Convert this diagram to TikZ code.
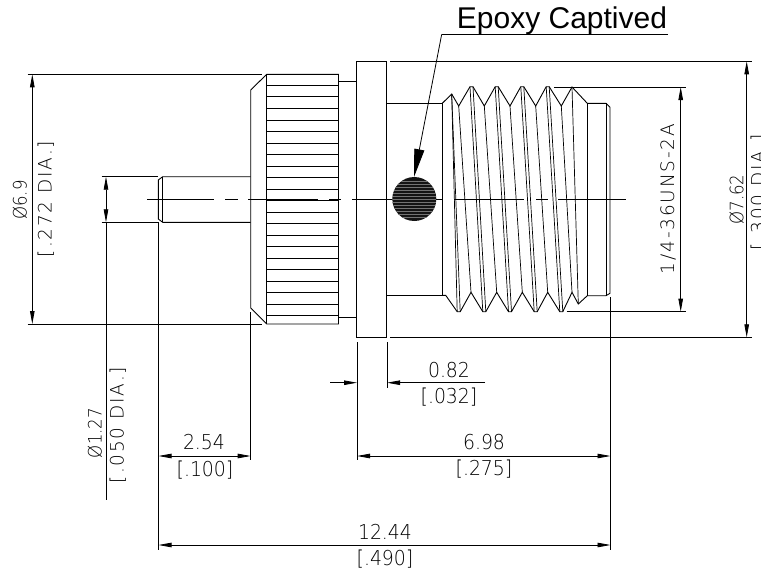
\documentclass[tikz,border=0pt]{standalone}
\usepackage{fontspec}
\usetikzlibrary{arrows.meta}
\newfontfamily\dimfont[FakeStretch=0.92]{DejaVu Sans ExtraLight}
\newfontfamily\upfont[LetterSpace=10]{DejaVu Sans ExtraLight}
\newfontfamily\diafont[FakeStretch=0.9]{DejaVu Sans ExtraLight}
\newfontfamily\notefont{Liberation Sans}
\tikzset{
	line/.style={black,line width=0.9pt},
	thin line/.style={black,line width=0.7pt},
	dim/.style={black,line width=0.8pt,{Triangle[length=13pt,width=4.5pt]}-{Triangle[length=13pt,width=4.5pt]}},
	dim end/.style={black,line width=0.8pt,-{Triangle[length=13pt,width=4.5pt]}},
	dim text/.style={inner sep=0pt,font=\dimfont\fontsize{20.5}{20.5}\selectfont},
	up text/.style={inner sep=0pt,rotate=90,font=\upfont\fontsize{18.5}{18.5}\selectfont},
	dia text/.style={inner sep=0pt,rotate=90,font=\diafont\fontsize{18.5}{18.5}\selectfont}
}
\begin{document}
\begin{tikzpicture}[x=1pt,y=-1pt]
	\useasboundingbox (0,0) rectangle (761,568);
	% knurled nut
	\draw [line] (250.7,90) -- (266.7,74.3) -- (338.5,74.3) -- (338.5,324) -- (266.7,324) -- (250.7,308) -- cycle;
	\draw [line] (266.7,74.3) -- (266.7,324);
	\foreach \row in {0,...,20}
		\draw [thin line] (266.7,85.3+11.52*\row) -- (338.5,85.3+11.52*\row);
	\draw [line] (338.5,81.7) -- (356.3,81.7);
	\draw [line] (338.5,317) -- (356.3,317);
	% flange
	\draw [line] (356.3,61) rectangle (386,337);
	\draw [line] (386,103.3) -- (442.3,103.3) -- (442.3,295.3) -- (386,295.3);
	% pin
	\draw [line] (250.7,176.7) -- (162.7,176.7) -- (158.3,180) -- (158.3,219) -- (162.7,222.3) -- (250.7,222.3);
	\draw [line] (162.7,176.7) -- (162.7,222.3);
	% thread outline
	\draw [line] (442.3,103.3) -- (451.7,94) -- (458.7,106) -- (470,86.7) -- (473,86.7) -- (484.3,106) -- (495.2,86.7) -- (498.2,86.7) -- (510,106) -- (520.8,86.7) -- (523.8,86.7) -- (535.7,106) -- (546.2,86.7) -- (549.2,86.7) -- (561.3,106) -- (572,87) -- (587.3,103.3) -- (606,103.3) -- (610,107.3) -- (610,293.3) -- (606,295.7) -- (587.3,295.7) -- (578.3,304) -- (572,292.3) -- (562.8,311.7) -- (559.8,311.7) -- (547.7,292.3) -- (537.2,311.7) -- (534.2,311.7) -- (522.3,292.3) -- (511.5,311.7) -- (508.5,311.7) -- (496.7,292.3) -- (485.8,311.7) -- (482.8,311.7) -- (471,292.3) -- (460.2,311.7) -- (457.2,311.7) -- (445.7,295.3) -- (442.3,295.3);
	\draw [line] (587.3,103.3) -- (587.3,295.7);
	\draw [line] (606,103.3) -- (606,295.7);
	\foreach \xa/\ya/\xb/\yb in {451.7/94/457.2/311.7,451.7/94/460.2/311.7,458.7/106/471/292.3,470/86.7/482.8/311.7,473/86.7/485.8/311.7,484.3/106/496.7/292.3,495.2/86.7/508.5/311.7,498.2/86.7/511.5/311.7,510/106/522.3/292.3,520.8/86.7/534.2/311.7,523.8/86.7/537.2/311.7,535.7/106/547.7/292.3,546.2/86.7/559.8/311.7,549.2/86.7/562.8/311.7,561.3/106/572/292.3,572/87/578.3/304}
		\draw [thin line] (\xa,\ya) -- (\xb,\yb);
	% centre line
	\foreach \xa/\xb in {147/214,225/238,248/318,329/341,352/443,454/524,536/548,558/626}
		\draw [thin line] (\xa,199.3) -- (\xb,199.3);
	% epoxy hole
	\fill [black!92] (414.3,199) circle (22);
	\begin{scope}
		\clip (414.3,199) circle (22);
		\foreach \row in {0,...,12}
			\draw [black!55,line width=0.35pt] (392,181+3*\row) -- (437,181+3*\row);
	\end{scope}
	% callout
	\node (captived) [inner sep=0pt,anchor=base,font=\notefont\fontsize{30}{30}\selectfont] at (562,28.3) {Epoxy Captived};
	\coordinate (shelfend) at (668,34.3);
	\coordinate (shelfstart) at (441.7,34.3);
	\coordinate (hole) at (414,177);
	\draw [line] (shelfend) -- (shelfstart);
	\draw [black,line width=0.8pt,-{Triangle[length=28pt,width=10pt]}] (shelfstart) -- (hole);
	% extension lines
	\draw [thin line] (27.7,74.3) -- (262,74.3);
	\draw [thin line] (27.7,324) -- (262,324);
	\draw [thin line] (101.7,176.7) -- (158,176.7);
	\draw [thin line] (101.7,222.3) -- (158,222.3);
	\draw [thin line] (390,61.3) -- (751.7,61.3);
	\draw [thin line] (390,337.3) -- (751.7,337.3);
	\draw [thin line] (554.3,87) -- (685.7,87);
	\draw [thin line] (566.7,311.7) -- (685.7,311.7);
	\draw [thin line] (158.5,222.3) -- (158.5,550);
	\draw [thin line] (250.7,312) -- (250.7,460);
	\draw [thin line] (357,342) -- (357,460);
	\draw [thin line] (387,342) -- (387,388);
	\draw [thin line] (610.5,297) -- (610.5,550);
	% dimensions
	\draw [dim] (32.3,74.3) -- (32.3,324);
	\node (outerdia) [dia text] at (20,200) {Ø6.9};
	\node (outerinch) [up text] at (45.7,199) {[.272 DIA.]};
	\draw [dim] (106,176.7) -- (106,222.3);
	\draw [thin line] (106,222.3) -- (106,500);
	\node (pindia) [dia text] at (95,433) {Ø1.27};
	\node (pininch) [up text] at (117.8,425) {[.050 DIA.]};
	\draw [dim] (680.7,87) -- (680.7,311.7);
	\node (threadsize) [up text] at (668,199) {1/4-36UNS-2A};
	\draw [dim] (746.7,61.3) -- (746.7,337.3);
	\node (flangedia) [dia text] at (736.7,199.5) {Ø7.62};
	\node (flangeinch) [up text] at (758.7,192) {[.300 DIA.]};
	\draw [dim end] (330,382.7) -- (357,382.7);
	\draw [dim end] (485,382.7) -- (387,382.7);
	\node (flangew) [dim text] at (449,369.6) {0.82};
	\node (flangeinchw) [dim text] at (449,397) {[.032]};
	\draw [dim] (158.5,456) -- (250.7,456);
	\node (pinlen) [dim text] at (204,442) {2.54};
	\node (pininchlen) [dim text] at (205,470) {[.100]};
	\draw [dim] (357,456) -- (610.5,456);
	\node (bodylen) [dim text] at (484,442) {6.98};
	\node (bodyinch) [dim text] at (484,469) {[.275]};
	\draw [dim] (158.5,545) -- (610.5,545);
	\node (totallen) [dim text] at (385,532) {12.44};
	\node (totalinch) [dim text] at (385,559) {[.490]};
\end{tikzpicture}
\end{document}
